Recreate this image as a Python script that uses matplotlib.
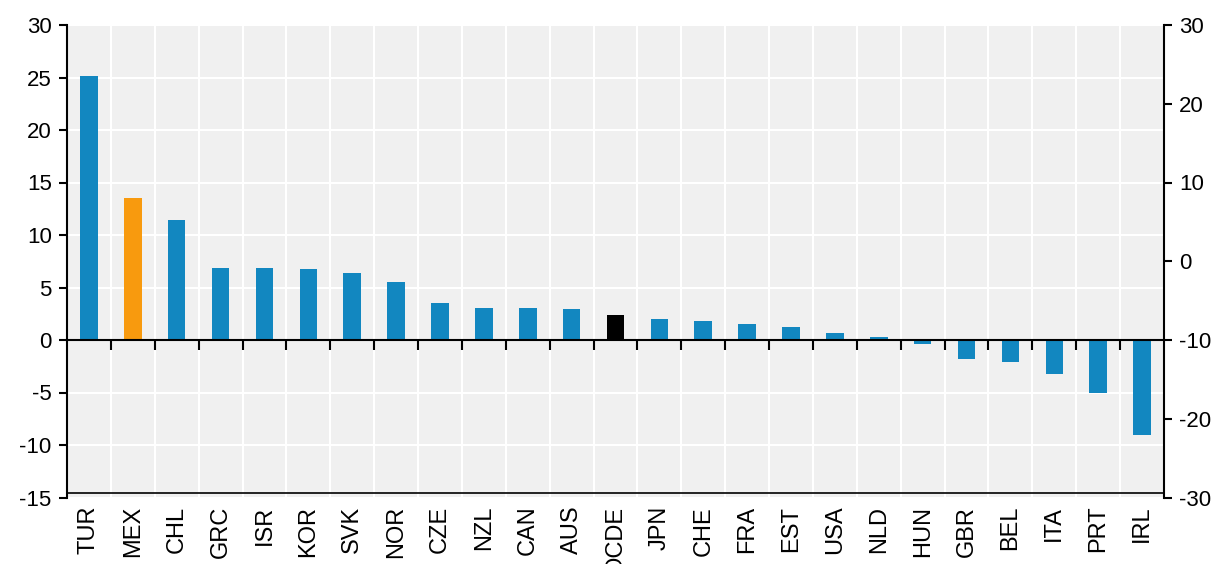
import numpy as np
import matplotlib
matplotlib.use("Agg")
from matplotlib import pyplot as plt

plt.rcParams['font.family'] = ['Liberation Sans', 'DejaVu Sans']

countries = ["TUR", "MEX", "CHL", "GRC", "ISR", "KOR", "SVK", "NOR", "CZE", "NZL",
             "CAN", "AUS", "OCDE", "JPN", "CHE", "FRA", "EST", "USA", "NLD", "HUN",
             "GBR", "BEL", "ITA", "PRT", "IRL"]
values = [25.1, 13.5, 11.4, 6.9, 6.85, 6.75, 6.4, 5.5, 3.5, 3.08,
          3.08, 2.95, 2.4, 2.0, 1.78, 1.56, 1.2, 0.63, 0.32, -0.4,
          -1.8, -2.06, -3.27, -5.0, -9.0]
left_ticks = [30, 25, 20, 15, 10, 5, 0, -5, -10, -15]
right_ticks = [30, 20, 10, 0, -10, -20, -30]

blue = "#1287C0"
orange = "#F89A0E"
colors = []
for c in countries:
    if c == "MEX":
        colors.append(orange)
    elif c == "OCDE":
        colors.append("black")
    else:
        colors.append(blue)

n = len(countries)
x = np.arange(n)

fig = plt.figure(figsize=(12.21, 5.64), dpi=100)
ax = fig.add_axes([67 / 1221, 1 - 497.5 / 564, (1164 - 67) / 1221, (497.5 - 25) / 564])
ax.set_facecolor("#F0F0F0")

ax.bar(x, values, width=0.4, color=colors, zorder=3)

ymin, ymax = -15, 30
ax.set_ylim(ymin, ymax)
ax.set_xlim(-0.5, n - 0.5)
ax.set_yticks(left_ticks)
ax.set_yticklabels([str(t) for t in left_ticks])

# grid: horizontal at ticks, vertical at category boundaries
for t in left_ticks:
    ax.axhline(t, color="white", lw=1.5, zorder=1)
for b in np.arange(n + 1) - 0.5:
    ax.axvline(b, color="white", lw=1.5, zorder=1)

ax.set_xticks(x)
ax.set_xticklabels(countries, rotation=90, fontsize=17)
ax.tick_params(axis="x", length=0, pad=6)
ax.tick_params(axis="y", labelsize=16, length=6, width=1.5, direction="out", pad=5)

for s in ["top", "right"]:
    ax.spines[s].set_visible(False)
ax.spines["left"].set_linewidth(1.5)
ax.spines["bottom"].set_visible(False)
ax.axhline(-14.55, color="black", lw=1.2, zorder=4)

# zero line with boundary ticks
zero = ax.secondary_xaxis((0 - ymin) / (ymax - ymin))
zero.set_zorder(6)
zero.set_xticks(np.arange(1, n) - 0.5)
zero.tick_params(axis="x", length=7, width=1.5, direction="out", labelbottom=False, labeltop=False)
zero.spines["bottom"].set_linewidth(1.5)
zero.spines["top"].set_visible(False)

ax2 = ax.twinx()
ax2.set_ylim(-30, 30)
ax2.set_yticks(right_ticks)
ax2.set_yticklabels([str(t) for t in right_ticks])
ax2.tick_params(axis="y", labelsize=16, length=6, width=1.5, direction="out", pad=5)
for s in ["top", "left", "bottom"]:
    ax2.spines[s].set_visible(False)
ax2.spines["right"].set_linewidth(1.5)

fig.savefig("out.png", dpi=100)
